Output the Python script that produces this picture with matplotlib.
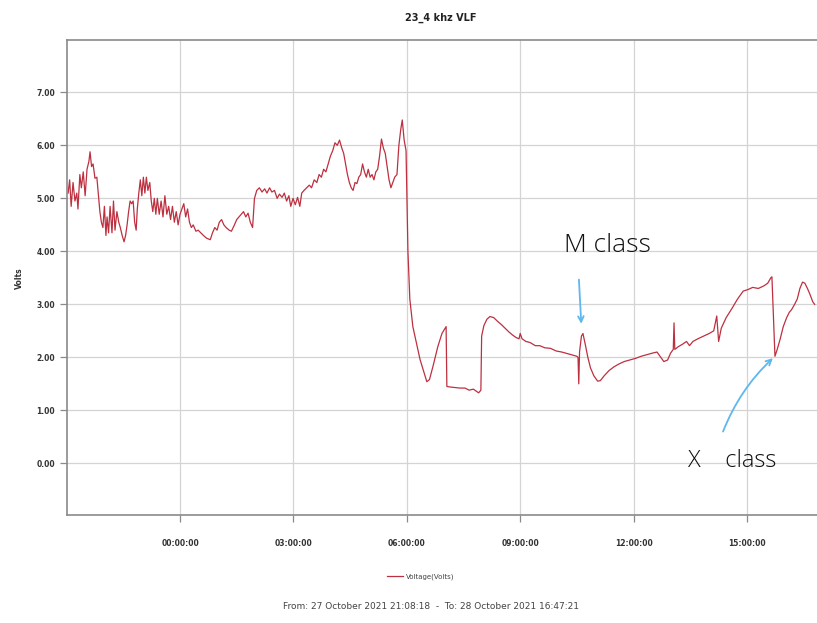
import numpy as np
import pandas as pd
import matplotlib
matplotlib.use('Agg')
import matplotlib.pyplot as plt
import matplotlib.dates as mdates

# hours relative to 28 Oct 2021 00:00 (negative = evening of 27 Oct)
hours = [-2.96, -2.92, -2.88, -2.83, -2.78, -2.73, -2.70, -2.65, -2.61, -2.56,
         -2.51, -2.46, -2.41, -2.38, -2.34, -2.30, -2.25, -2.20, -2.15, -2.12,
         -2.08, -2.04, -2.00, -1.96, -1.93, -1.89, -1.85, -1.80, -1.76, -1.72,
         -1.67, -1.62, -1.58, -1.53, -1.48, -1.44, -1.40, -1.36, -1.32, -1.28,
         -1.24, -1.20, -1.16, -1.13, -1.09, -1.05, -1.01, -0.97, -0.93, -0.89,
         -0.85, -0.80, -0.76, -0.72, -0.68, -0.64, -0.60, -0.55, -0.50, -0.45,
         -0.40, -0.35, -0.30, -0.25, -0.20, -0.15, -0.10, -0.05, 0.00, 0.05,
         0.10, 0.15, 0.20, 0.25, 0.30, 0.35, 0.42, 0.48, 0.55, 0.62,
         0.70, 0.80, 0.86, 0.92, 0.98, 1.04, 1.10, 1.16, 1.22, 1.30,
         1.36, 1.44, 1.50, 1.56, 1.62, 1.68, 1.74, 1.80, 1.86, 1.92,
         1.97, 2.03, 2.10, 2.17, 2.24, 2.30, 2.37, 2.43, 2.50, 2.57,
         2.63, 2.70, 2.76, 2.82, 2.88, 2.93, 2.99, 3.05, 3.11, 3.17,
         3.22, 3.28, 3.35, 3.42, 3.48, 3.55, 3.62, 3.68, 3.74, 3.80,
         3.86, 3.92, 3.98, 4.04, 4.10, 4.16, 4.22, 4.28, 4.33, 4.38,
         4.43, 4.48, 4.53, 4.58, 4.63, 4.68, 4.73, 4.78, 4.83, 4.88,
         4.93, 4.98, 5.03, 5.08, 5.13, 5.18, 5.23, 5.28, 5.33, 5.38,
         5.43, 5.48, 5.53, 5.58, 5.63, 5.68, 5.74, 5.79, 5.84, 5.88,
         5.93, 5.98, 6.03, 6.08, 6.16, 6.35, 6.53, 6.60, 6.70, 6.82,
         6.93, 7.04, 7.06, 7.15, 7.28, 7.40, 7.54, 7.65, 7.76, 7.86,
         7.90, 7.96, 7.98, 8.04, 8.12, 8.20, 8.30, 8.40, 8.50, 8.60,
         8.70, 8.80, 8.90, 8.97, 9.00, 9.05, 9.15, 9.26, 9.40, 9.52,
         9.65, 9.80, 9.95, 10.10, 10.25, 10.40, 10.50, 10.53, 10.55, 10.57,
         10.62, 10.66, 10.72, 10.79, 10.86, 10.95, 11.05, 11.12, 11.22, 11.35,
         11.48, 11.60, 11.75, 11.90, 12.05, 12.20, 12.35, 12.50, 12.62, 12.72,
         12.80, 12.90, 12.98, 13.05, 13.07, 13.09, 13.18, 13.30, 13.40, 13.48,
         13.57, 13.70, 13.85, 14.00, 14.12, 14.20, 14.25, 14.32, 14.45, 14.60,
         14.75, 14.90, 15.03, 15.15, 15.30, 15.45, 15.55, 15.63, 15.66, 15.74,
         15.80, 15.88, 15.96, 16.05, 16.12, 16.18, 16.26, 16.33, 16.40, 16.47,
         16.53, 16.60, 16.66, 16.74, 16.79]

volts = [5.10, 5.35, 4.85, 5.30, 4.95, 5.10, 4.80, 5.45, 5.20, 5.50,
         5.05, 5.55, 5.70, 5.88, 5.60, 5.65, 5.38, 5.40, 5.00, 4.75,
         4.55, 4.45, 4.85, 4.30, 4.65, 4.35, 4.85, 4.35, 4.95, 4.40,
         4.75, 4.55, 4.45, 4.30, 4.18, 4.30, 4.50, 4.75, 4.95, 4.90,
         4.95, 4.55, 4.40, 4.80, 5.10, 5.35, 5.05, 5.40, 5.10, 5.40,
         5.15, 5.30, 4.95, 4.75, 5.00, 4.70, 5.00, 4.70, 4.95, 4.65,
         5.05, 4.70, 4.85, 4.60, 4.85, 4.55, 4.75, 4.50, 4.70, 4.80,
         4.90, 4.65, 4.80, 4.55, 4.45, 4.50, 4.38, 4.40, 4.35, 4.30,
         4.25, 4.22, 4.35, 4.45, 4.40, 4.55, 4.60, 4.50, 4.45, 4.40,
         4.38, 4.50, 4.60, 4.65, 4.70, 4.75, 4.65, 4.72, 4.55, 4.45,
         5.00, 5.15, 5.20, 5.12, 5.18, 5.10, 5.20, 5.12, 5.15, 5.00,
         5.08, 5.02, 5.10, 4.95, 5.05, 4.85, 5.00, 4.88, 5.02, 4.85,
         5.10, 5.15, 5.20, 5.25, 5.20, 5.35, 5.30, 5.45, 5.40, 5.55,
         5.50, 5.65, 5.80, 5.90, 6.05, 6.00, 6.10, 5.95, 5.85, 5.65,
         5.45, 5.30, 5.20, 5.15, 5.30, 5.28, 5.40, 5.45, 5.65, 5.50,
         5.40, 5.55, 5.40, 5.45, 5.35, 5.50, 5.55, 5.80, 6.12, 5.95,
         5.85, 5.60, 5.35, 5.20, 5.30, 5.40, 5.45, 6.00, 6.30, 6.48,
         6.10, 5.90, 4.00, 3.10, 2.58, 1.96, 1.54, 1.58, 1.85, 2.20,
         2.45, 2.58, 1.45, 1.44, 1.43, 1.42, 1.42, 1.38, 1.40, 1.35,
         1.33, 1.38, 2.40, 2.60, 2.72, 2.77, 2.75, 2.68, 2.62, 2.55,
         2.48, 2.42, 2.37, 2.35, 2.45, 2.35, 2.30, 2.28, 2.22, 2.22,
         2.18, 2.17, 2.12, 2.10, 2.07, 2.04, 2.02, 2.00, 1.50, 2.10,
         2.40, 2.45, 2.25, 2.00, 1.80, 1.65, 1.55, 1.56, 1.65, 1.75,
         1.82, 1.87, 1.92, 1.95, 1.98, 2.02, 2.05, 2.08, 2.10, 2.00,
         1.92, 1.95, 2.08, 2.15, 2.65, 2.15, 2.20, 2.25, 2.30, 2.22,
         2.30, 2.35, 2.40, 2.45, 2.50, 2.78, 2.30, 2.55, 2.75, 2.92,
         3.10, 3.25, 3.28, 3.32, 3.30, 3.35, 3.40, 3.50, 3.52, 2.02,
         2.15, 2.35, 2.58, 2.75, 2.85, 2.90, 3.00, 3.10, 3.30, 3.42,
         3.40, 3.30, 3.20, 3.05, 3.00]

y_ticks = [0, 1, 2, 3, 4, 5, 6, 7]
x_tick_hours = [0, 3, 6, 9, 12, 15]

base = pd.Timestamp('2021-10-28 00:00:00')
t = base + pd.to_timedelta(hours, unit='h')

fig = plt.figure(figsize=(8.17, 6.23), dpi=100)
# right edge runs past the picture, like the cropped screenshot
ax = fig.add_axes([0.082, 0.173, 0.935, 0.762])

ax.plot(t, volts, color='#bd3040', lw=0.9, label='Voltage(Volts)')

ax.set_xlim(base + pd.Timedelta(hours=-2.99), base + pd.Timedelta(hours=17.22))
ax.set_ylim(-0.98, 7.98)
ax.set_yticks(y_ticks)
ax.set_yticklabels(['%.2f' % v for v in y_ticks])
ax.xaxis.set_major_locator(mdates.HourLocator(byhour=x_tick_hours))
ax.xaxis.set_major_formatter(mdates.DateFormatter('%H:%M:%S'))

ax.grid(True, color='#d4d4d4', lw=0.9)
for s in ax.spines.values():
    s.set_color('#8a8a8a')
    s.set_linewidth(1.2)
ax.tick_params(axis='both', colors='#8a8a8a', labelcolor='#333333',
               labelsize=5.5, length=5, width=0.9)
ax.tick_params(axis='x', pad=12)
for lab in ax.get_xticklabels() + ax.get_yticklabels():
    lab.set_fontweight('bold')

ax.set_ylabel('Volts', fontsize=5.5, fontweight='bold', color='#333333', labelpad=9)
fig.text(0.54, 0.972, '23_4 khz VLF', ha='center', va='center',
         fontsize=7, fontweight='bold', color='#222222')

fig.legend(loc='center', bbox_to_anchor=(0.515, 0.074), frameon=False,
           fontsize=5, handlelength=2.2, handletextpad=0.4, labelcolor='#444444')
fig.text(0.528, 0.026, 'From: 27 October 2021 21:08:18  -  To: 28 October 2021 16:47:21',
         ha='center', va='center', fontsize=6.5, color='#444444')

# hand drawn notes
def tx(h):
    return mdates.date2num(base + pd.Timedelta(hours=h))

ax.text(tx(11.32), 4.12, 'M class', ha='center', va='center', fontsize=19,
        color='#111111', family='Open Sans', fontweight='light')
ax.text(tx(14.62), 0.04, 'X    class', ha='center', va='center', fontsize=17,
        color='#111111', family='Open Sans', fontweight='light')
ax.annotate('', xy=(tx(10.62), 2.58), xytext=(tx(10.55), 3.52),
            arrowprops=dict(arrowstyle='->', color='#5cb8ee', lw=1.3))
ax.annotate('', xy=(tx(15.74), 2.02), xytext=(tx(14.34), 0.55),
            arrowprops=dict(arrowstyle='->', color='#5cb8ee', lw=1.3,
                            connectionstyle='arc3,rad=-0.12'))

fig.savefig('out.png', dpi=100)
